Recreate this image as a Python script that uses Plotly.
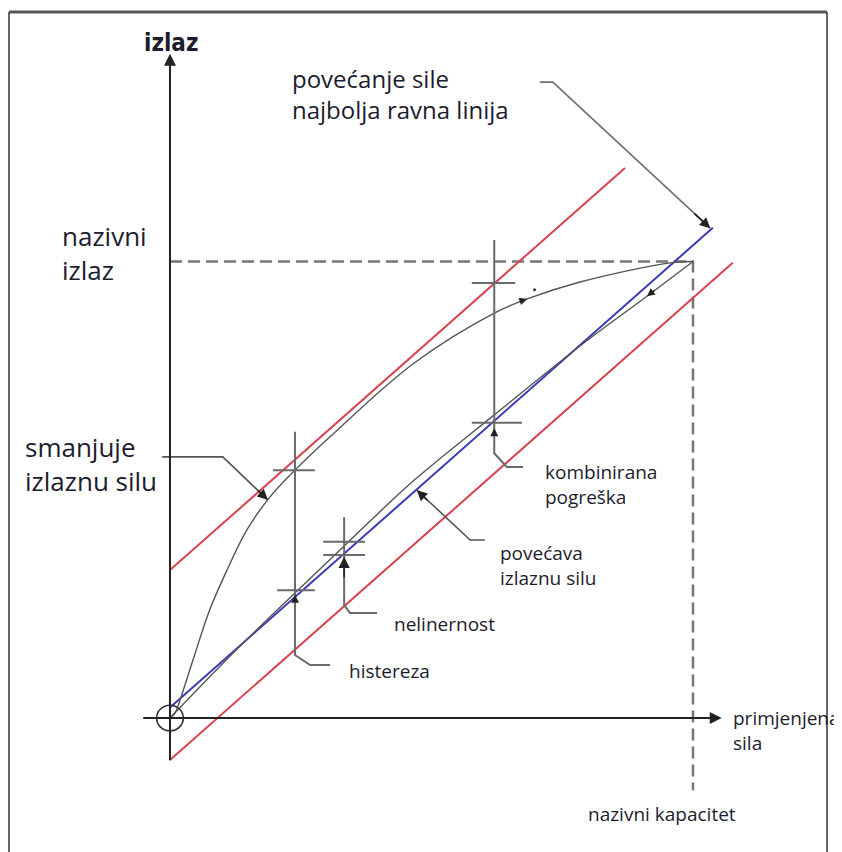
import plotly.graph_objects as go

# diagram units: rated force = 100, rated output = 100
rated_force = 100
rated_output = 100

# output while force decreases (upper hysteresis branch)
down_force = [0, 0.96, 1.9, 4.4, 7.6, 10.9, 14.7, 19.1, 23.9, 30.6, 46.5, 62.0, 68.3, 78.4, 95.6, 100]
down_output = [0, 1.1, 3.9, 12.7, 23.7, 32.4, 41.2, 48.4, 54.3, 61.6, 77.6, 88.7, 91.8, 95.5, 99.7, 100]

# output while force increases (lower branch)
up_force = [0, 11.5, 23.9, 33.5, 46.5, 62.0, 78.4, 91.2, 100]
up_output = [0, 13.6, 27.4, 37.9, 51.9, 66.4, 81.5, 92.4, 100]

# best straight line and combined error band
best_force = [0, 103.8]
best_output = [2.3, 107.4]
band_hi_force = [0, 87.0]
band_hi_output = [32.4, 120.5]
band_lo_force = [0, 107.6]
band_lo_output = [-9.2, 99.7]

# error markers: (force, upper bar, lower bar)
hyst_at, hyst_hi, hyst_lo = 23.9, 54.3, 28.0
nonlin_at, nonlin_hi, nonlin_lo = 33.3, 38.6, 35.7
comb_at, comb_hi, comb_lo = 62.0, 95.3, 64.7

TXT = "#1c1c2e"
FONT = "Open Sans"
RED = "#d8434f"
BLUE = "#3a3ab8"
CURVE = "#555555"
MARK = "#6a6a6a"

fig = go.Figure()


def line(xs, ys, color, width, dash=None, shape="linear"):
    fig.add_trace(go.Scatter(x=xs, y=ys, mode="lines", hoverinfo="skip", showlegend=False,
                             line=dict(color=color, width=width, dash=dash, shape=shape)))


def arrow(x, y, ax, ay, width=1.5, size=1.2, color="#222222", data_tail=True):
    fig.add_annotation(x=x, y=y, ax=ax, ay=ay, text="", showarrow=True,
                       axref="x" if data_tail else "pixel", ayref="y" if data_tail else "pixel",
                       arrowhead=2, arrowsize=size, arrowwidth=width, arrowcolor=color, standoff=0)


def label(x, y, text, size, family=FONT, anchor="left"):
    fig.add_annotation(x=x, y=y, text=text, showarrow=False, xanchor=anchor, yanchor="middle",
                       align="left", font=dict(family=family, size=size, color=TXT))


# rated capacity / rated output guides
line([0, rated_force, rated_force], [rated_output, rated_output, -15.8], "#777777", 2.5, "12px,6px")

# band and best line
line(band_hi_force, band_hi_output, RED, 2)
line(band_lo_force, band_lo_output, RED, 2)
line(best_force, best_output, BLUE, 2)

# hysteresis branches
line(down_force, down_output, CURVE, 1.4, shape="spline")
line(up_force, up_output, CURVE, 1.4, shape="spline")

# error markers
line([hyst_at, hyst_at, 26.8, 30.6], [62.7, 13.8, 11.6, 11.6], MARK, 2)
line([19.7, 27.7], [hyst_hi, hyst_hi], MARK, 2)
line([20.5, 27.7], [hyst_lo, hyst_lo], MARK, 2)
line([nonlin_at, nonlin_at, 34.4, 39.6], [44.0, 24.8, 23.0, 23.0], MARK, 2)
line([29.3, 37.3], [nonlin_hi, nonlin_hi], MARK, 2)
line([29.3, 37.3], [nonlin_lo, nonlin_lo], MARK, 2)
line([comb_at, comb_at, 64.4, 67.5], [104.7, 58.0, 55.0, 55.0], MARK, 2)
line([57.7, 66.0], [comb_hi, comb_hi], MARK, 2)
line([57.7, 67.3], [comb_lo, comb_lo], MARK, 2)

# leaders
line([70.7, 73.2, 103.3], [139.3, 139.3, 107.3], "#707070", 1.6)
arrow(103.3, 107.3, 100.0, 110.8, width=1.6, size=1.3, color="#222222")
line([-1.5, 10.1, 18.7], [57.2, 57.2, 47.8], "#555555", 1.6)
arrow(18.7, 47.8, 16.5, 50.2, width=1.6, size=1.3)
line([47.2, 57.4, 60.2], [49.9, 39.0, 39.0], "#555555", 1.6)
arrow(47.2, 49.9, 49.5, 47.4, width=1.6, size=1.3)

# small arrowheads
arrow(nonlin_at, nonlin_lo - 0.4, 0, 22, width=1.6, size=1.4, data_tail=False)
arrow(hyst_at, hyst_lo - 1.0, 0, 8, width=1.6, size=1.0, data_tail=False)
arrow(comb_at, comb_lo - 1.2, 0, 8, width=1.6, size=1.0, data_tail=False)
arrow(68.3, 91.8, -9, 3, width=1.3, size=1.2, data_tail=False)
arrow(91.2, 92.4, 9, -7, width=1.3, size=1.2, data_tail=False)
fig.add_trace(go.Scatter(x=[69.7], y=[93.8], mode="markers", hoverinfo="skip", showlegend=False,
                         marker=dict(size=3, color="#333333")))

# axes with arrows and origin circle
arrow(0, 145.5, 0, -9.6, width=2, size=1.2, color="#222222")
arrow(105.5, 0, -5.4, 0, width=2, size=1.2, color="#222222")
fig.add_shape(type="circle", x0=-2.55, x1=2.55, y0=-2.8, y1=2.8, line=dict(color="#333333", width=1.6))

# labels
label(0.2, 147.8, "<b>izlaz</b>", 24, family="DejaVu Sans Condensed", anchor="center")
label(22.9, 136.7, "povećanje sile<br>najbolja ravna linija", 24)
label(-21.0, 101.95, "nazivni<br>izlaz", 26)
label(-28.1, 55.65, "smanjuje<br>izlaznu silu", 26)
label(71.3, 51.2, "kombinirana<br>pogreška", 19)
label(62.7, 33.35, "povećava<br>izlaznu silu", 19)
label(42.4, 20.5, "nelinernost", 19)
label(33.8, 10.2, "histereza", 19)
label(107.3, -2.7, "primjenjena<br>sila", 19)
label(79.5, -21.1, "nazivni kapacitet", 19)

# frame
fig.add_shape(type="line", xref="paper", yref="paper", x0=0.0012, x1=0.9727, y0=0.9953, y1=0.9953,
              line=dict(color="#555555", width=3))
fig.add_shape(type="line", xref="paper", yref="paper", x0=0.0012, x1=0.0012, y0=0.9953, y1=-0.01,
              line=dict(color="#333333", width=1.5))
fig.add_shape(type="line", xref="paper", yref="paper", x0=0.9727, x1=0.9727, y0=0.9953, y1=-0.01,
              line=dict(color="#333333", width=1.5))

# ranges chosen so the page's 8px body offset lands the drawing where the reference has it
fig.update_layout(
    width=842, height=852,
    margin=dict(l=0, r=0, t=0, b=0),
    paper_bgcolor="white", plot_bgcolor="white",
    xaxis=dict(range=[-30.97, 130.02], visible=False, fixedrange=True),
    yaxis=dict(range=[-31.1, 155.53], visible=False, fixedrange=True),
    showlegend=False,
)

fig.write_html("out.html")
